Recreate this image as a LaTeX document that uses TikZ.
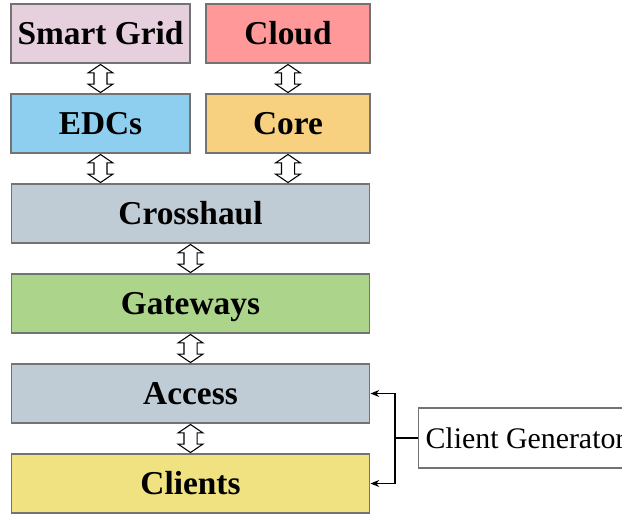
\documentclass[tikz,border=0pt]{standalone}
\usepackage{fontspec}
\setmainfont{Liberation Serif}
\usetikzlibrary{shapes.arrows,arrows.meta,calc}
\definecolor{gridpink}{RGB}{230,208,222}
\definecolor{cloudred}{RGB}{255,153,153}
\definecolor{edcblue}{RGB}{142,207,240}
\definecolor{coreorange}{RGB}{247,208,128}
\definecolor{haulgray}{RGB}{191,204,214}
\definecolor{gwgreen}{RGB}{172,212,138}
\definecolor{clientyellow}{RGB}{240,226,128}
\definecolor{edgegray}{RGB}{115,115,115}

\tikzset{
    layer/.style={draw=edgegray, line width=0.6pt, minimum height=1.18cm, inner sep=0pt,
        text height=12.6pt, text depth=0pt,
        font=\fontsize{19}{22}\selectfont\bfseries},
    link/.style={shape=double arrow, draw=black, fill=white, line width=0.6pt, rotate=90,
        minimum height=0.56cm, inner sep=0.12cm, double arrow head extend=0.12cm,
        double arrow tip angle=112},
    feed/.style={line width=0.6pt, -{Stealth[length=5pt,width=4pt]}}
}

\begin{document}
\begin{tikzpicture}[x=0.02cm, y=-0.02cm]
    \useasboundingbox (0,0) rectangle (622,514);
    \clip (0,0) rectangle (622,514);

    % Top row
    \node[layer, fill=gridpink, minimum width=3.58cm] (grid) at (100.5,33.5) {Smart Grid};
    \node[layer, fill=cloudred, minimum width=3.28cm] (cloud) at (288,33.5) {Cloud};

    % Second row
    \node[layer, fill=edcblue, minimum width=3.58cm] (edc) at (100.5,123.5) {EDCs};
    \node[layer, fill=coreorange, minimum width=3.28cm] (core) at (288,123.5) {Core};

    % Full-width layers
    \node[layer, fill=haulgray, minimum width=7.18cm] (haul) at (190.5,213.5) {Crosshaul};
    \node[layer, fill=gwgreen, minimum width=7.18cm] (gw) at (190.5,303.5) {Gateways};
    \node[layer, fill=haulgray, minimum width=7.18cm] (access) at (190.5,393.5) {Access};
    \node[layer, fill=clientyellow, minimum width=7.18cm] (clients) at (190.5,483.5) {Clients};

    % Client generator
    \node[draw=edgegray, line width=0.6pt, anchor=west, minimum height=1.2cm,
        inner xsep=0.14cm, font=\fontsize{17}{20}\selectfont] (gen) at (418,438) {Client Generator};

    % Two-way links
    \node[link] (l1) at ($(grid.south)!0.5!(edc.north)$) {};
    \node[link] (l2) at ($(cloud.south)!0.5!(core.north)$) {};
    \node[link] (l3) at ($(edc.south)!0.5!(edc.south |- haul.north)$) {};
    \node[link] (l4) at ($(core.south)!0.5!(core.south |- haul.north)$) {};
    \node[link] (l5) at ($(haul.south)!0.5!(gw.north)$) {};
    \node[link] (l6) at ($(gw.south)!0.5!(access.north)$) {};
    \node[link] (l7) at ($(access.south)!0.5!(clients.north)$) {};

    % Feeds from generator
    \coordinate (split) at (395,438);
    \draw[line width=0.6pt] (gen.west) -- (split);
    \draw[feed] (split) |- (access.east);
    \draw[feed] (split) |- (clients.east);

\end{tikzpicture}
\end{document}
